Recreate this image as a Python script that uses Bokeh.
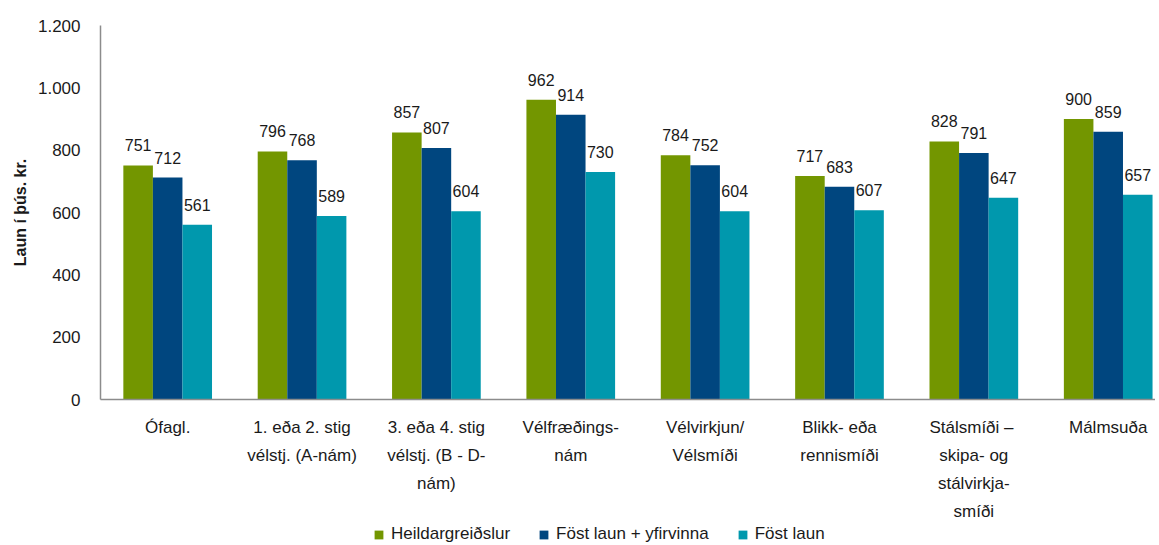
import numpy as np
from bokeh.plotting import figure
from bokeh.layouts import column
from bokeh.models import ColumnDataSource, Range1d, FixedTicker, Legend, LegendItem
from bokeh.transform import dodge
from bokeh.core.properties import value
from bokeh.embed import file_html
from bokeh.resources import INLINE

categories = [
    "Ófagl.",
    "1. eða 2. stig\nvélstj. (A-nám)",
    "3. eða 4. stig\nvélstj. (B - D-\nnám)",
    "Vélfræðings-\nnám",
    "Vélvirkjun/\nVélsmíði",
    "Blikk- eða\nrennismíði",
    "Stálsmíði  –\nskipa- og\nstálvirkja-\nsmíði",
    "Málmsuða",
]
series_names = ["Heildargreiðslur", "Föst laun + yfirvinna", "Föst laun"]
heildar = [751, 796, 857, 962, 784, 717, 828, 900]
fost_yfir = [712, 768, 807, 914, 752, 683, 791, 859]
fost = [561, 589, 604, 730, 604, 607, 647, 657]
y_ticks = [0, 200, 400, 600, 800, 1000, 1200]
y_tick_labels = ["0", "200", "400", "600", "800", "1.000", "1.200"]

colors = ["#739600", "#00467F", "#0098AD"]
FONT = "Liberation Sans"

xs = list(range(len(categories)))
src = ColumnDataSource(dict(
    x=xs,
    s0=heildar, s1=fost_yfir, s2=fost,
    t0=[str(v) for v in heildar],
    t1=[str(v) for v in fost_yfir],
    t2=[str(v) for v in fost],
))

W = 1155
H = 524
p = figure(width=W, height=H, output_backend="svg", toolbar_location=None,
           x_range=Range1d(-0.5, 7.352), y_range=Range1d(0, 1200),
           min_border_left=100, min_border_right=0, min_border_top=25,
           min_border_bottom=H - 403)
p.outline_line_color = None
p.xgrid.visible = False
p.ygrid.visible = False
p.background_fill_color = "white"
p.border_fill_color = "white"

bw = 0.22
offsets = [-bw, 0.0, bw]
for i, (col, off) in enumerate(zip(colors, offsets)):
    p.vbar(x=dodge("x", off), top=f"s{i}", width=bw, source=src,
           fill_color=col, line_color=None)
    p.text(x=dodge("x", off), y=f"s{i}", text=f"t{i}", source=src,
           text_align="center", text_baseline="alphabetic", y_offset=-20,
           text_font=value(FONT), text_font_size="16px", text_color="#1a1a1a")

# x axis
xa = p.xaxis[0]
xa.ticker = FixedTicker(ticks=xs)
xa.major_label_overrides = {i: c for i, c in enumerate(categories)}
xa.major_tick_line_color = None
xa.minor_tick_line_color = None
xa.axis_line_color = "#8c8c8c"
xa.axis_line_width = 1.5
xa.major_label_standoff = 12
xa.major_label_text_font = FONT
xa.major_label_text_font_size = "17px"
xa.major_label_text_color = "#1a1a1a"
xa.major_label_text_line_height = 1.49

# y axis
ya = p.yaxis[0]
ya.ticker = FixedTicker(ticks=y_ticks)
ya.major_label_overrides = {t: l for t, l in zip(y_ticks, y_tick_labels)}
ya.major_tick_line_color = None
ya.minor_tick_line_color = None
ya.axis_line_color = "#8c8c8c"
ya.axis_line_width = 1.5
ya.major_label_standoff = 14
ya.major_label_text_font = FONT
ya.major_label_text_font_size = "17px"
ya.major_label_text_color = "#1a1a1a"
ya.axis_label = "Laun í þús. kr."
ya.axis_label_text_font = FONT
ya.axis_label_text_font_size = "16px"
ya.axis_label_text_font_style = "bold"
ya.axis_label_text_color = "#1a1a1a"
ya.axis_label_standoff = 6

# legend strip below the chart (its renderers sit entirely outside the strip's visible range)
lg = figure(width=W, height=21, output_backend="svg", toolbar_location=None,
            x_range=Range1d(0, 1), y_range=Range1d(0, 1),
            min_border=0, min_border_left=100, outline_line_color=None)
lg.axis.visible = False
lg.grid.visible = False
lg_renderers = [lg.vbar(x=[50], bottom=[50], top=[51], width=0.1, fill_color=c, line_color=None)
                for c in colors]
legend = Legend(
    items=[LegendItem(label=n, renderers=[r]) for n, r in zip(series_names, lg_renderers)],
    orientation="horizontal", location=(273, 1),
    glyph_width=11, glyph_height=11, label_height=19, label_standoff=7, spacing=28,
    padding=0, margin=0, border_line_color=None, background_fill_alpha=0,
    label_text_font=FONT, label_text_font_size="17px", label_text_color="#1a1a1a",
)
lg.add_layout(legend, "center")

layout = column(p, lg, spacing=0)
open("out.html", "w").write(file_html(layout, INLINE))
